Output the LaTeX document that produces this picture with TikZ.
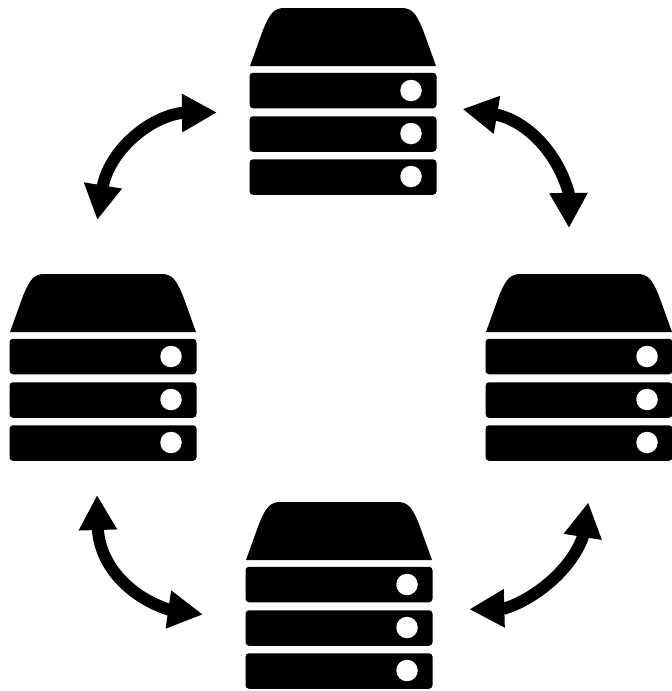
\documentclass[tikz,border=0pt]{standalone}
\usetikzlibrary{arrows.meta}
\tikzset{
  bar/.style={fill=black,rounded corners=3.5pt,minimum width=187pt,minimum height=35.5pt,inner sep=0pt,outer sep=0pt},
  lamp/.style={circle,fill=white,minimum size=21.5pt,inner sep=0pt,outer sep=0pt},
  link/.style={line width=12pt,{Triangle[length=35pt,width=36pt]}-{Triangle[length=35pt,width=36pt]}},
  server/.pic={
    \fill[black] (0,58) -- (13,22) .. controls (20,5) and (24,0) .. (35,0) -- (151,0)
       .. controls (162,0) and (166,5) .. (173,22) -- (186,58) -- cycle;
    \node[bar] (-a) at (93,82.5) {};
    \node[bar] (-b) at (93,126) {};
    \node[bar] (-c) at (93,169) {};
    \node[lamp] (-la) at (161,82.5) {};
    \node[lamp] (-lb) at (161,125.5) {};
    \node[lamp] (-lc) at (161,168.5) {};
  }
}
\begin{document}
\begin{tikzpicture}[x=1pt,y=-1pt]
\useasboundingbox (0,0) rectangle (672,691);
\pic (top) at (250,8) {server};
\pic (left) at (10,274) {server};
\pic (right) at (486,274) {server};
\pic (bottom) at (246,502) {server};
\coordinate (tl1) at (217,112.5);
\coordinate (tl1b) at (181,113);
\coordinate (tl2b) at (103,185);
\coordinate (tl2) at (97.3,220);
\coordinate (tr1) at (462.5,109);
\coordinate (tr1b) at (498,115);
\coordinate (tr2b) at (568.5,192);
\coordinate (tr2) at (569,228);
\coordinate (br1) at (469.3,609.3);
\coordinate (br1b) at (505,608.3);
\coordinate (br2b) at (582.7,537.3);
\coordinate (br2) at (588.3,502.3);
\coordinate (bl1) at (97,495);
\coordinate (bl1b) at (98,531);
\coordinate (bl2b) at (168.5,609.5);
\coordinate (bl2) at (203,614.5);
\draw[link] (tl1) -- (tl1b) .. controls (148,118) and (111,150) .. (tl2b) -- (tl2);
\draw[link] (tr1) -- (tr1b) .. controls (526,122) and (556,150) .. (tr2b) -- (tr2);
\draw[link] (br1) -- (br1b) .. controls (532,600) and (570,572) .. (br2b) -- (br2);
\draw[link] (bl1) -- (bl1b) .. controls (101,565) and (128,596) .. (bl2b) -- (bl2);
\end{tikzpicture}
\end{document}
